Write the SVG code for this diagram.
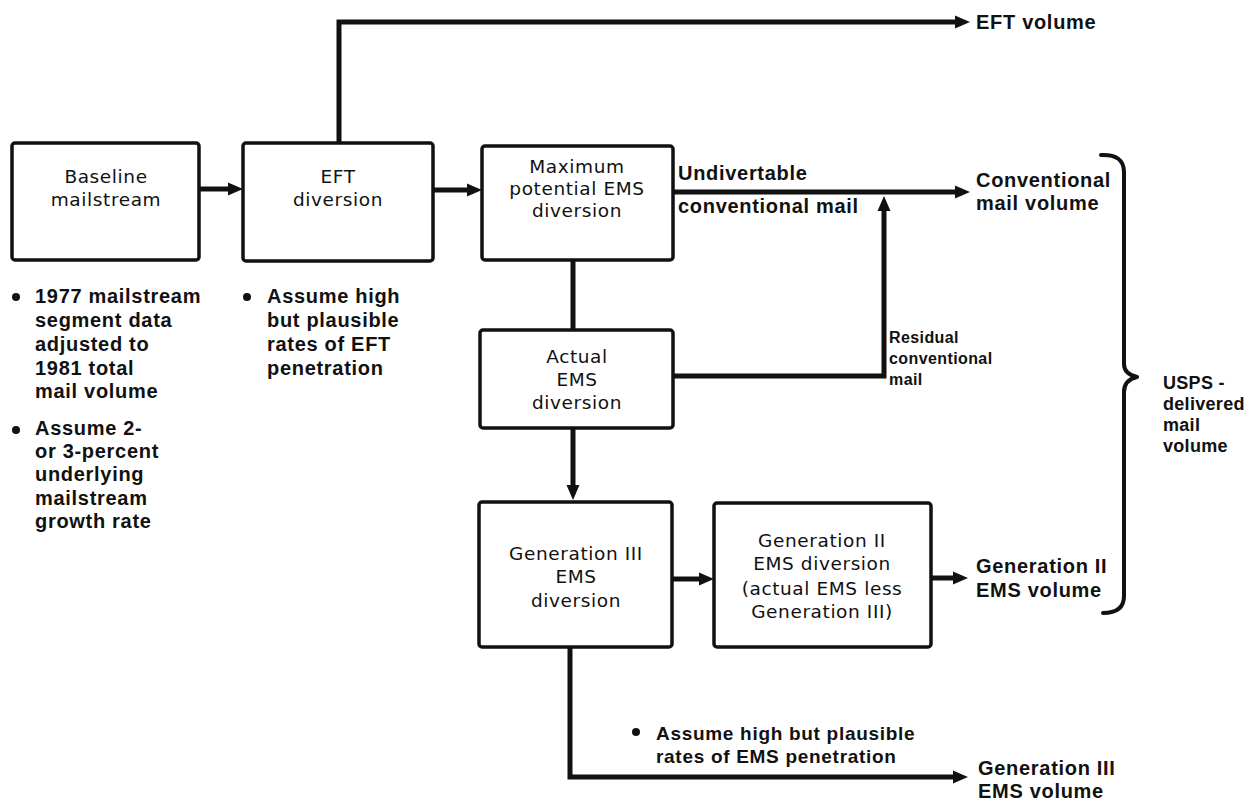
<svg xmlns="http://www.w3.org/2000/svg" width="1245" height="802" viewBox="0 0 1245 802">
<style>
.box{fill:#fff;stroke:#111;stroke-width:3.5}
.bt{font-family:"DejaVu Sans",sans-serif;font-size:18.5px;letter-spacing:0.6px;fill:#111;text-anchor:middle}
.b{font-family:"Liberation Sans",Arial,sans-serif;font-weight:bold;font-size:20px;letter-spacing:0.7px;fill:#111}
.s18{font-size:18px;letter-spacing:0.3px}
.s16{font-size:16px;letter-spacing:0.4px}
.s19{font-size:19px}
.c{fill:none;stroke:#111;stroke-width:5}
.brace{fill:none;stroke:#111;stroke-width:4;stroke-linecap:round;stroke-linejoin:round}
</style>
<defs>
<marker id="ah" markerUnits="userSpaceOnUse" markerWidth="16" markerHeight="14" refX="3" refY="7" orient="auto">
<path d="M0,0.5 L15,7 L0,13.5 z" fill="#111"/>
</marker>
</defs>
<rect width="1245" height="802" fill="#fff"/>

<g id="connectors">
<path class="c" d="M339,143 V22 H958" marker-end="url(#ah)"/>
<path class="c" d="M673,192 H958" marker-end="url(#ah)"/>
<path class="c" d="M673,376 H884 V208" marker-end="url(#ah)"/>
<path class="c" d="M573,260 V330"/>
<path class="c" d="M573,428 V488" marker-end="url(#ah)"/>
<path class="c" d="M199,189 H231" marker-end="url(#ah)"/>
<path class="c" d="M433,190 H470" marker-end="url(#ah)"/>
<path class="c" d="M672,579 H702" marker-end="url(#ah)"/>
<path class="c" d="M931,578 H956" marker-end="url(#ah)"/>
<path class="c" d="M570,647 V777 H956" marker-end="url(#ah)"/>
</g>

<g id="baseline">
<rect class="box" x="12" y="143" width="187" height="117" rx="3"/>
<text class="bt" x="106" y="183">Baseline</text>
<text class="bt" x="106" y="206">mailstream</text>
</g>

<g id="eft-diversion">
<rect class="box" x="243" y="143" width="190" height="118" rx="3"/>
<text class="bt" x="338" y="183">EFT</text>
<text class="bt" x="338" y="206">diversion</text>
</g>

<g id="max-potential">
<rect class="box" x="482" y="146" width="191" height="114" rx="3"/>
<text class="bt" x="577" y="173">Maximum</text>
<text class="bt" x="577" y="195">potential EMS</text>
<text class="bt" x="577" y="217">diversion</text>
</g>

<g id="actual-ems">
<rect class="box" x="480" y="330" width="193" height="98" rx="3"/>
<text class="bt" x="577" y="363">Actual</text>
<text class="bt" x="577" y="386">EMS</text>
<text class="bt" x="577" y="409">diversion</text>
</g>

<g id="gen3">
<rect class="box" x="479" y="502" width="193" height="145" rx="3"/>
<text class="bt" x="576" y="560">Generation III</text>
<text class="bt" x="576" y="583">EMS</text>
<text class="bt" x="576" y="607">diversion</text>
</g>

<g id="gen2">
<rect class="box" x="714" y="503" width="217" height="144" rx="3"/>
<text class="bt" x="822" y="547">Generation II</text>
<text class="bt" x="822" y="570">EMS diversion</text>
<text class="bt" x="822" y="595">(actual EMS less</text>
<text class="bt" x="822" y="618">Generation III)</text>
</g>

<g id="notes-baseline">
<circle cx="16" cy="297" r="4" fill="#111"/>
<text class="b" x="35" y="303">1977 mailstream</text>
<text class="b" x="35" y="327">segment data</text>
<text class="b" x="35" y="351">adjusted to</text>
<text class="b" x="35" y="375">1981 total</text>
<text class="b" x="35" y="398">mail volume</text>
<circle cx="16" cy="430" r="4" fill="#111"/>
<text class="b" x="35" y="435">Assume 2-</text>
<text class="b" x="35" y="458">or 3-percent</text>
<text class="b" x="35" y="481">underlying</text>
<text class="b" x="35" y="505">mailstream</text>
<text class="b" x="35" y="528">growth rate</text>
</g>

<g id="notes-eft">
<circle cx="247" cy="297" r="4" fill="#111"/>
<text class="b" x="267" y="303">Assume high</text>
<text class="b" x="267" y="327">but plausible</text>
<text class="b" x="267" y="351">rates of EFT</text>
<text class="b" x="267" y="375">penetration</text>
</g>

<g id="label-undivertable">
<text class="b" x="678" y="180">Undivertable</text>
<text class="b" x="678" y="213">conventional mail</text>
</g>

<g id="label-residual">
<text class="b s16" x="889" y="343">Residual</text>
<text class="b s16" x="889" y="364">conventional</text>
<text class="b s16" x="889" y="385">mail</text>
</g>

<g id="notes-ems">
<circle cx="636" cy="732" r="4" fill="#111"/>
<text class="b s19" x="656" y="740">Assume high but plausible</text>
<text class="b s19" x="656" y="763">rates of EMS penetration</text>
</g>

<g id="out-eft">
<text class="b" x="976" y="29">EFT volume</text>
</g>
<g id="out-conventional">
<text class="b" x="976" y="187">Conventional</text>
<text class="b" x="976" y="210">mail volume</text>
</g>
<g id="out-gen2">
<text class="b" x="976" y="573">Generation II</text>
<text class="b" x="976" y="597">EMS volume</text>
</g>
<g id="out-gen3">
<text class="b" x="978" y="775">Generation III</text>
<text class="b" x="978" y="798">EMS volume</text>
</g>

<g id="usps-brace">
<path class="brace" d="M1101,155 Q1124,154 1124,172 V364 Q1124,374 1137,377 Q1124,380 1124,392 V596 Q1124,613 1103,613"/>
<text class="b s18" x="1163" y="389">USPS -</text>
<text class="b s18" x="1163" y="410">delivered</text>
<text class="b s18" x="1163" y="431">mail</text>
<text class="b s18" x="1163" y="452">volume</text>
</g>
</svg>
